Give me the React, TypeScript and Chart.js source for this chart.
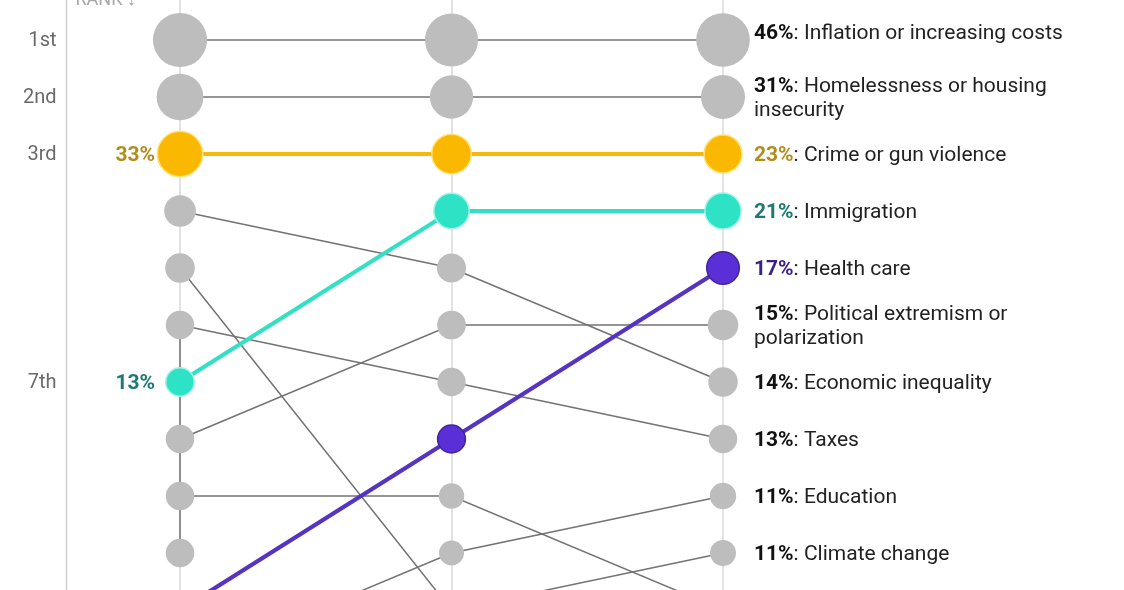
import React, { useEffect, useRef } from "react";
import { Chart, registerables } from "chart.js";
Chart.register(...registerables);

// ---- DATA ----
const topics = [
  "Inflation or increasing costs",
  "Homelessness or housing insecurity",
  "Crime or gun violence",
  "Immigration",
  "Health care",
  "Political extremism or polarization",
  "Economic inequality",
  "Taxes",
  "Education",
  "Climate change",
  "Jobs or the economy",
  "Public transportation",
];
// column 1 (earliest survey)
const rankA = [1, 2, 3, 7, 11, 8, 4, 6, 12, 5, 9, 10];
const pctA = [47, 35, 33, 13, 12, 13, 16, 13, 11, 14, 13, 13];
// column 2
const rankB = [1, 2, 3, 4, 8, 6, 5, 7, 10, 11, 9, null];
const pctB = [45, 30, 25, 20, 12.4, 13.2, 13.6, 12.8, 10, 9, 10.4, null];
// column 3 (latest survey)
const rankC = [1, 2, 3, 4, 5, 6, 7, 8, 9, 10, 11, null];
const pctC = [46, 31, 23, 21, 17, 15, 14, 13, 11.2, 10.8, 10, null];

const rankTicks = [1, 2, 3, 7];
const rankTickLabels = ["1st", "2nd", "3rd", "7th"];

const highlightTopics = ["Crime or gun violence", "Immigration", "Health care"];
const highlightColors = ["#fbb800", "#2ee2c6", "#5a2fd8"];
const highlightLineColors = ["#f6b90a", "#33e0c4", "#5634c2"];
const highlightBorderColors = ["#ffe27a", "#a5f3e6", "#3f2697"];
const highlightTextColors = ["#b08d1c", "#1c7a73", "#3b1f8c"];

const FONT = "Roboto, 'Noto Sans', sans-serif";
const GRAY_POINT = "#bdbdbd";
const GRAY_LINE = "#737373";

const columns = [
  { rank: rankA, pct: pctA },
  { rank: rankB, pct: pctB },
  { rank: rankC, pct: pctC },
];

const radiusFor = (p: number) => 3.95 * Math.sqrt(p);

function buildDatasets() {
  const ds: any[] = [];
  topics.forEach((name, i) => {
    const pts: { x: number; y: number }[] = [];
    const radii: number[] = [];
    columns.forEach((c, ci) => {
      const r = c.rank[i];
      const p = c.pct[i];
      if (r != null && p != null) {
        pts.push({ x: ci, y: r });
        radii.push(radiusFor(p));
      }
    });
    const hi = highlightTopics.indexOf(name);
    if (hi >= 0) {
      ds.push({
        label: name,
        data: pts,
        borderColor: highlightLineColors[hi],
        borderWidth: 4.2,
        pointRadius: radii,
        pointBackgroundColor: highlightColors[hi],
        pointBorderColor: highlightBorderColors[hi],
        pointBorderWidth: 1.5,
        order: 1,
        clip: false,
      });
    } else {
      ds.push({
        label: name,
        data: pts,
        borderColor: GRAY_LINE,
        borderWidth: 1.5,
        pointRadius: radii,
        pointBackgroundColor: GRAY_POINT,
        pointBorderWidth: 0,
        order: 2,
        clip: false,
      });
    }
  });
  // tie connectors: consecutive ranks in a column sharing the same value
  columns.forEach((c, ci) => {
    const byRank: { r: number; p: number }[] = [];
    c.rank.forEach((r, i) => {
      if (r != null && c.pct[i] != null) byRank.push({ r, p: c.pct[i] as number });
    });
    byRank.sort((a, b) => a.r - b.r);
    let start = 0;
    for (let k = 1; k <= byRank.length; k++) {
      if (k === byRank.length || byRank[k].p !== byRank[start].p) {
        if (k - 1 > start) {
          ds.push({
            label: "tie",
            data: [
              { x: ci, y: byRank[start].r },
              { x: ci, y: byRank[k - 1].r },
            ],
            borderColor: GRAY_LINE,
            borderWidth: 1.5,
            pointRadius: 0,
            order: 3,
          });
        }
        start = k;
      }
    }
  });
  return ds;
}

const decorPlugin = {
  id: "decor",
  beforeDatasetsDraw(chart: any) {
    const { ctx, scales, chartArea } = chart;
    const xs = scales.x;
    const ys = scales.y;
    ctx.save();
    // column guide lines
    ctx.strokeStyle = "#e3e3e3";
    ctx.lineWidth = 2;
    columns.forEach((_, ci) => {
      const x = Math.round(xs.getPixelForValue(ci));
      ctx.beginPath();
      ctx.moveTo(x, chartArea.top);
      ctx.lineTo(x, chartArea.bottom);
      ctx.stroke();
    });
    // left rank axis
    const axisX = Math.round(xs.getPixelForValue(-0.42)) + 0.5;
    ctx.strokeStyle = "#cfcfcf";
    ctx.lineWidth = 1.5;
    ctx.beginPath();
    ctx.moveTo(axisX, chartArea.top);
    ctx.lineTo(axisX, chartArea.bottom);
    ctx.stroke();
    // rank labels
    ctx.fillStyle = "#6a6a6a";
    ctx.font = `20px ${FONT}`;
    ctx.textAlign = "right";
    ctx.textBaseline = "middle";
    rankTicks.forEach((r, k) => {
      ctx.fillText(rankTickLabels[k], axisX - 10, ys.getPixelForValue(r) + 1);
    });
    // axis title (cut by the top edge)
    ctx.textAlign = "left";
    ctx.textBaseline = "alphabetic";
    ctx.fillStyle = "#a8a8a8";
    ctx.font = `18px ${FONT}`;
    ctx.fillText("RANK \u2193", axisX + 9, 5);
    ctx.restore();
  },
  afterDatasetsDraw(chart: any) {
    const { ctx, scales } = chart;
    const xs = scales.x;
    const ys = scales.y;
    const fs = 21;
    const lh = 23.5;
    const maxW = 330;
    ctx.save();
    ctx.textBaseline = "middle";
    // right-hand labels for the last column
    const x0 = xs.getPixelForValue(2) + 31;
    topics.forEach((name, i) => {
      const r = rankC[i];
      const p = pctC[i];
      if (r == null || p == null) return;
      const hi = highlightTopics.indexOf(name);
      const pctText = Math.round(p) + "%";
      ctx.font = `bold ${fs}px ${FONT}`;
      const pw = ctx.measureText(pctText).width;
      ctx.font = `${fs}px ${FONT}`;
      const words = name.split(" ");
      const lines: string[] = [];
      let cur = ":";
      let offset = pw;
      words.forEach((w) => {
        const test = cur === "" ? w : cur === ":" ? ": " + w : cur + " " + w;
        if (cur !== ":" && cur !== "" && offset + ctx.measureText(test).width > maxW) {
          lines.push(cur);
          cur = w;
          offset = 0;
        } else {
          cur = test;
        }
      });
      lines.push(cur);
      let yc = ys.getPixelForValue(r) + 1.5;
      if (r === 1) yc -= 8;
      lines.forEach((ln, k) => {
        const y = yc + (k - (lines.length - 1) / 2) * lh;
        let x = x0;
        if (k === 0) {
          ctx.font = `bold ${fs}px ${FONT}`;
          ctx.fillStyle = hi >= 0 ? highlightTextColors[hi] : "#111111";
          ctx.textAlign = "left";
          ctx.fillText(pctText, x, y);
          x += pw;
        }
        ctx.font = `${fs}px ${FONT}`;
        ctx.fillStyle = "#222222";
        ctx.fillText(ln, x, y);
      });
    });
    // left-hand value labels for highlighted topics in the first column
    const xl = xs.getPixelForValue(0) - 25;
    ctx.textAlign = "right";
    ctx.font = `bold ${fs}px ${FONT}`;
    highlightTopics.forEach((name, hi) => {
      const i = topics.indexOf(name);
      const r = rankA[i];
      const p = pctA[i];
      if (r == null || p == null) return;
      ctx.fillStyle = highlightTextColors[hi];
      ctx.fillText(Math.round(p) + "%", xl, ys.getPixelForValue(r) + 1.5);
    });
    ctx.restore();
  },
};

export default function App() {
  const ref = useRef<HTMLCanvasElement | null>(null);
  useEffect(() => {
    document.body.style.margin = "0";
    document.body.style.overflow = "hidden";
    const canvas = ref.current;
    if (!canvas) return;
    const chart = new Chart(canvas, {
      type: "line",
      data: { datasets: buildDatasets() },
      options: {
        animation: false,
        responsive: false,
        events: [],
        layout: { padding: 0, autoPadding: false },
        plugins: { legend: { display: false }, tooltip: { enabled: false } },
        scales: {
          x: { type: "linear", display: false, min: -0.663, max: 3.477 },
          y: { type: "linear", display: false, reverse: true, min: 0.2982, max: 10.649 },
        },
      },
      plugins: [decorPlugin],
    } as any);
    return () => chart.destroy();
  }, []);
  return (
    <div style={{ width: 1124, height: 590, background: "#fff" }}>
      <canvas ref={ref} width={1124} height={590} style={{ display: "block" }} />
    </div>
  );
}
